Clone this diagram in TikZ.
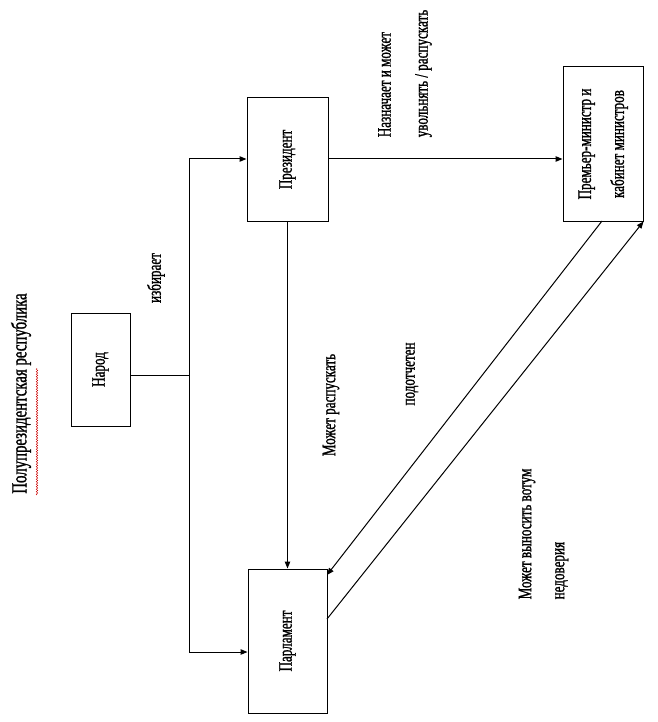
\documentclass[tikz,border=0pt]{standalone}
\usepackage{fontspec}
\setmainfont[FakeStretch=0.69,FakeBold=1.2]{Liberation Serif}
\usetikzlibrary{arrows.meta,decorations.pathmorphing}
\begin{document}
\begin{tikzpicture}[x=1pt,y=-1pt,
  box/.style={draw, line width=1pt, inner sep=0pt, font=\fontsize{19}{22}\selectfont},
  lbl/.style={rotate=90, inner sep=0pt, font=\fontsize{19}{22}\selectfont},
  conn/.style={line width=1pt},
  arr/.style={line width=1pt, -{Triangle[length=7pt,width=5.5pt]}}]
\useasboundingbox (0,0) rectangle (657,722);
% boxes
\node[box, minimum width=59pt, minimum height=113pt] (narod) at (100.5,369.5) {\rotatebox{90}{Народ}};
\node[box, minimum width=81pt, minimum height=123pt] (pres) at (287.5,159.5) {\rotatebox{90}{Президент}};
\node[box, minimum width=80pt, minimum height=154pt] (pm) at (603,144)
  {\rotatebox{90}{\begin{tabular}{@{}c@{}}Премьер-министр и\\[11pt]кабинет министров\end{tabular}}};
\node[box, minimum width=79pt, minimum height=144pt] (parl) at (287.5,641) {\rotatebox{90}{Парламент}};
% labels
\node[lbl, font=\fontsize{21.5}{25}\selectfont] (title) at (21,393.5) {Полупрезидентская республика};
\node[lbl] (izb) at (156,278) {избирает};
\node[lbl, align=left, font=\fontsize{19}{37}\selectfont] (nazn) at (405,73.5) {Назначает и может\\увольнять / распускать};
\node[lbl] (mr) at (331,405) {Может распускать};
\node[lbl] (podot) at (412,374) {подотчетен};
\node[lbl, align=left, font=\fontsize{19}{33}\selectfont] (vot) at (543.5,534) {Может выносить вотум\\недоверия};
% spell-check underline
\draw[red!80!black, line width=0.4pt, decorate, decoration={snake, amplitude=0.8pt, segment length=2.5pt}] (37,495) -- (37,368);
% connectors
\coordinate (j) at (189,375);
\coordinate (jt) at (189,159);
\coordinate (jb) at (189,652);
\draw[conn] (narod.east |- j) -- (j);
\draw[conn] (jt) -- (jb);
\draw[arr] (jt) -- (pres.west |- jt);
\draw[arr] (jb) -- (parl.west |- jb);
\draw[arr] (pres.east |- jt) -- (pm.west |- jt);
\draw[arr] (pres.south) -- (parl.north);
\coordinate (d1s) at (602,221);
\coordinate (d1e) at (327,575);
\coordinate (d2s) at (327,619);
\draw[arr] (d1s) -- (d1e);
\draw[arr] (d2s) -- (pm.south east);
\end{tikzpicture}
\end{document}
